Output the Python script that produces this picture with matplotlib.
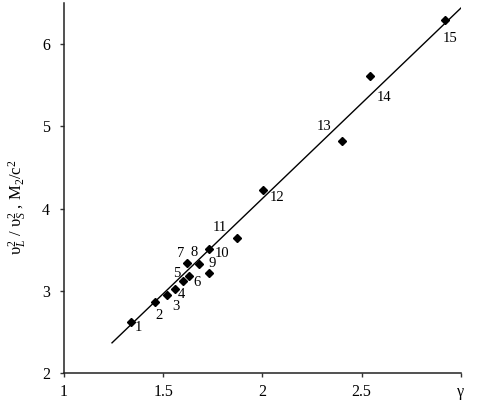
import matplotlib
matplotlib.use("Agg")
import matplotlib.pyplot as plt

# data
gamma = [1.337, 1.458, 1.517, 1.561, 1.599, 1.628, 1.618, 1.680,
         1.732, 1.732, 1.873, 2.002, 2.402, 2.542, 2.923]
ratio = [2.627, 2.863, 2.951, 3.024, 3.121, 3.186, 3.344, 3.324,
         3.215, 3.510, 3.640, 4.224, 4.826, 5.616, 6.289]
point_labels = [str(i) for i in range(1, 16)]
fit_x = [1.242, 3.012]
fit_y = [2.37, 6.464]
x_ticks = [1, 1.5, 2, 2.5, 3]
x_tick_labels = ["1", "1.5", "2", "2.5", "γ"]
y_ticks = [2, 3, 4, 5, 6]
y_tick_labels = ["2", "3", "4", "5", "6"]

# label offsets in pixels (dx right, dy up)
label_offsets = [(8, -6), (4, -13), (9, -11), (6, -5), (-6, 8), (8, -7),
                 (-6, 9), (-5, 12), (3, 10), (13, -4), (-17, 11), (14, -7),
                 (-18, 14), (14, -22), (5, -18)]

plt.rcParams['font.family'] = ['Liberation Serif', 'DejaVu Serif']
plt.rcParams['mathtext.fontset'] = 'custom'
plt.rcParams['mathtext.rm'] = 'Liberation Serif'
plt.rcParams['mathtext.it'] = 'Liberation Serif:italic'

fig = plt.figure(figsize=(4.86, 4.08), dpi=100)
ax = fig.add_axes([64/486, 34.7/408, (460.7-64)/486, (373.3-3)/408])

ax.plot(fit_x, fit_y, color='black', lw=1.0)
ax.plot(gamma, ratio, linestyle='none', marker='D', markersize=3.8,
        color='black')
for x, y, lab, (dx, dy) in zip(gamma, ratio, point_labels, label_offsets):
    ax.annotate(lab, (x, y), xytext=(dx, dy), textcoords='offset pixels',
                ha='center', va='center', fontsize=10.5)

ax.set_xlim(1, 3)
ax.set_ylim(2, 6.5)
ax.set_xticks(x_ticks)
ax.set_xticklabels(x_tick_labels)
ax.set_yticks(y_ticks)
ax.set_yticklabels(y_tick_labels)
ax.tick_params(direction='out', length=3, width=1, labelsize=11.5, color='#333333')
ax.tick_params(axis='x', pad=5)
ax.tick_params(axis='y', pad=7)
for s in ['top', 'right']:
    ax.spines[s].set_visible(False)
for s in ['left', 'bottom']:
    ax.spines[s].set_linewidth(1.1)
    ax.spines[s].set_color('#222222')

ax.set_ylabel("υ$_L^2$ / υ$_S^2$ , M$_2$/c$^2$", fontsize=12)
ax.yaxis.set_label_coords(-0.088, 0.45)

fig.savefig("out.png", dpi=100)
